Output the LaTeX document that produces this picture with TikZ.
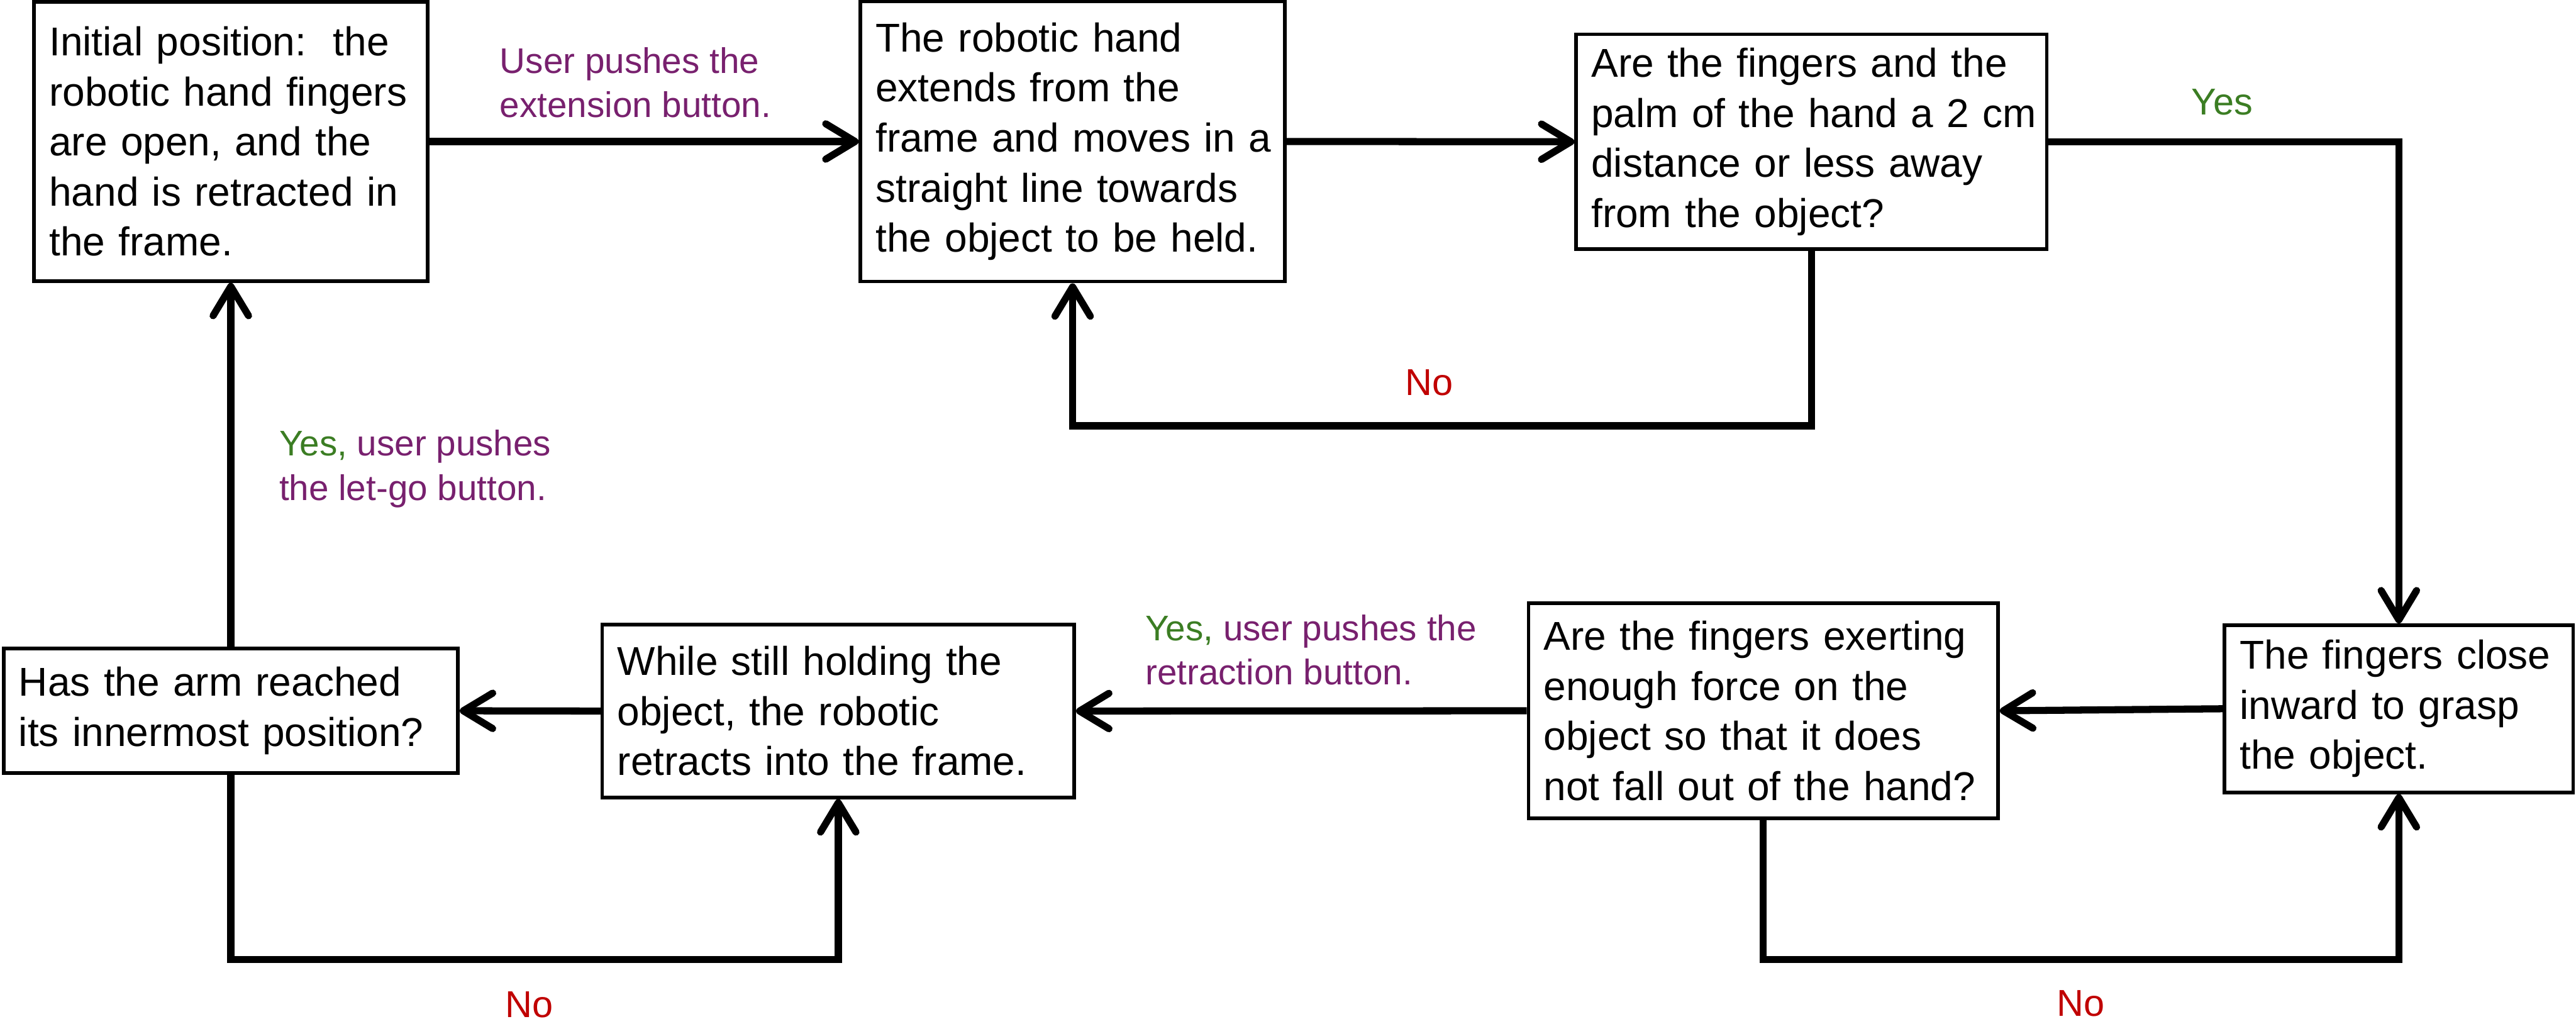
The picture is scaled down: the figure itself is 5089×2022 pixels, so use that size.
\documentclass[tikz,border=0pt]{standalone}
\usepackage{fontspec}
\setmainfont{Liberation Sans}
\usetikzlibrary{arrows.meta}
\definecolor{lblpurple}{HTML}{78206E}
\definecolor{lblgreen}{HTML}{3B7D23}
\definecolor{lblred}{HTML}{C00000}
\newcommand\oneline[1]{\mbox{#1}}
\begin{document}
\begin{tikzpicture}[x=0.01cm,y=-0.01cm,
  box/.style={draw=black, line width=0.07cm, rectangle, inner xsep=0.3cm, inner ysep=0pt,
    align=left, font=\fontsize{22.6}{28.1}\selectfont},
  flow/.style={line width=0.14cm, line join=miter,
    -{Straight Barb[length=0.58cm, width=0.70cm, round]}},
  lbl/.style={inner sep=0pt, align=left, font=\fontsize{20}{24.8}\selectfont, text=lblpurple},
  yn/.style={inner sep=0pt, font=\fontsize{21}{25}\selectfont}]
\useasboundingbox (0,0) rectangle (5089,2022);

% boxes
\node[box, minimum width=7.77cm, minimum height=5.51cm, text width=7.17cm] (A) at (456,279.5)
  {\oneline{Initial position:\ \ the}\\\oneline{robotic hand fingers}\\\oneline{are open, and the}\\\oneline{hand is retracted in}\\\oneline{the frame.}};
\node[box, minimum width=8.38cm, minimum height=5.53cm, text width=7.78cm] (B) at (2119,279.5)
  {\oneline{The robotic hand}\\\oneline{extends from the}\\\oneline{frame and moves in a}\\\oneline{straight line towards}\\\oneline{the object to be held.}};
\node[box, minimum width=9.29cm, minimum height=4.24cm, text width=8.69cm] (C) at (3578.5,280)
  {\oneline{Are the fingers and the}\\\oneline{palm of the hand a 2 cm}\\\oneline{distance or less away}\\\oneline{from the object?}};
\node[box, minimum width=6.88cm, minimum height=3.30cm, text width=6.28cm] (D) at (4739,1400)
  {\oneline{The fingers close}\\\oneline{inward to grasp}\\\oneline{the object.}};
\node[box, minimum width=9.27cm, minimum height=4.24cm, text width=8.67cm] (E) at (3483.5,1404)
  {\oneline{Are the fingers exerting}\\\oneline{enough force on the}\\\oneline{object so that it does}\\\oneline{not fall out of the hand?}};
\node[box, minimum width=9.32cm, minimum height=3.41cm, text width=8.72cm] (F) at (1656,1404.5)
  {\oneline{While still holding the}\\\oneline{object, the robotic}\\\oneline{retracts into the frame.}};
\node[box, minimum width=8.97cm, minimum height=2.46cm, text width=8.37cm] (G) at (456,1404)
  {\oneline{Has the arm reached}\\\oneline{its innermost position?}};

% helper coordinates
\coordinate (c1) at (3578.5,841);
\coordinate (g1) at (456,1895);
\coordinate (e1) at (3483.5,1895);

% connectors
\draw[flow] (A.east) -- (B.west);
\draw[flow] (B.east) -- (C.west);
\draw[flow] (C.east) -| (D.north);
\draw[flow] (C.south) -- (c1) -| (B.south);
\draw[flow] (D.west) -- (E.east);
\draw[flow] (E.west) -- (F.east);
\draw[flow] (F.west) -- (G.east);
\draw[flow] (G.north) -- (A.south);
\draw[flow] (G.south) -- (g1) -| (F.south);
\draw[flow] (E.south) -- (e1) -| (D.south);

% labels
\node[lbl, anchor=north west] (l1) at (987,93) {User pushes the\\extension button.};
\node[lbl, anchor=north west] (l2) at (551,849) {\textcolor{lblgreen}{Yes,} user pushes\\the let-go button.};
\node[lbl, anchor=north west] (l3) at (2262,1214) {\textcolor{lblgreen}{Yes,} user pushes the\\retraction button.};
\node[yn, text=lblgreen] (y1) at (4390,202) {Yes};
\node[yn, text=lblred] (n1) at (2824,756) {No};
\node[yn, text=lblred] (n2) at (1045,1985) {No};
\node[yn, text=lblred] (n3) at (4111,1982) {No};
\end{tikzpicture}
\end{document}
